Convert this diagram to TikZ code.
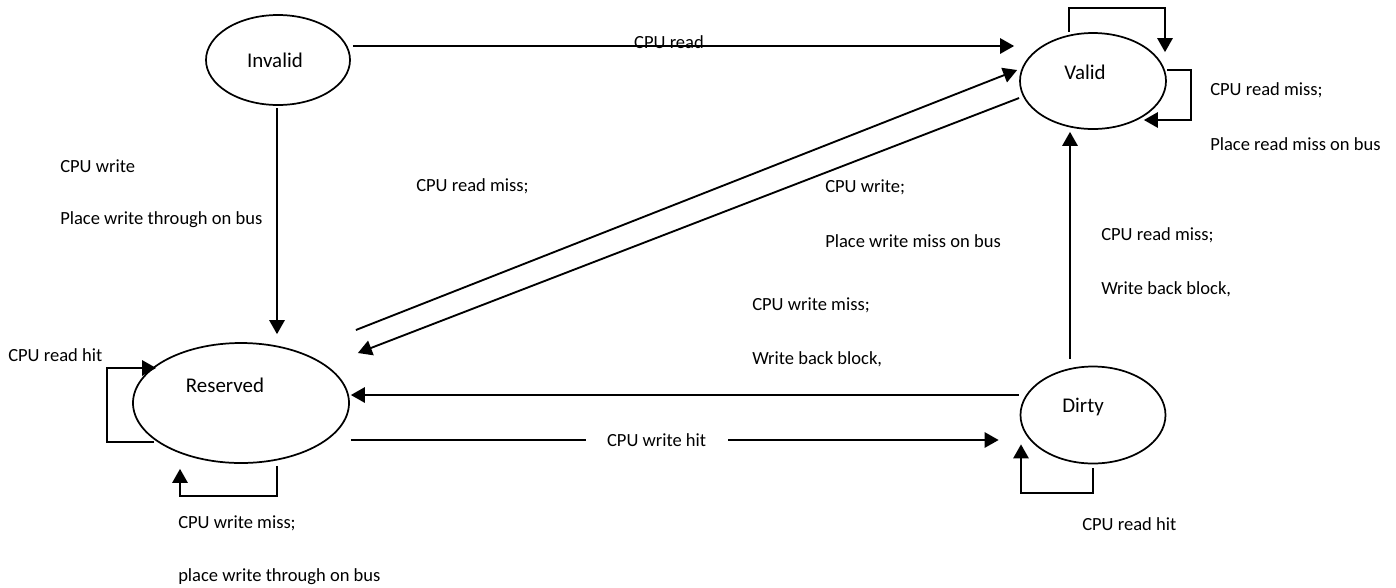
\documentclass[tikz,border=0pt]{standalone}
\usepackage{fontspec}
\setmainfont{Carlito}
\usetikzlibrary{arrows.meta,shapes.geometric}
\begin{document}
\begin{tikzpicture}[x=0.75pt,y=-0.75pt,
  state/.style={draw,ellipse,line width=1.3pt,inner sep=0pt},
  txt/.style={font=\fontsize{13.9}{16}\selectfont,inner sep=0pt},
  stxt/.style={font=\fontsize{15.7}{18}\selectfont,inner sep=0pt},
  lbl/.style={txt,anchor=west},
  arr/.style={line width=1.4pt,-{Triangle[length=10.5pt,width=11.5pt]}}]
\useasboundingbox (0,0) rectangle (1396,587);
% states
\node[state,minimum width=108pt,minimum height=67.5pt] (inv) at (278,60) {};
\node[state,minimum width=109.5pt,minimum height=72pt] (val) at (1093,81) {};
\node[state,minimum width=162pt,minimum height=90pt] (res) at (241,403) {};
\node[state,minimum width=108.75pt,minimum height=72.75pt] (dir) at (1093,415) {};
\node[stxt] (invT) at (275,60) {Invalid};
\node[stxt] (valT) at (1085,72) {Valid};
\node[stxt] (resT) at (225,385) {Reserved};
\node[stxt] (dirT) at (1083,407) {Dirty};
% connectors
\draw[arr] ([shift={(2,-14)}]inv.east) -- ([shift={(-5,-35)}]val.west);
\node[txt] (l1) at (669,42) {CPU read};
\draw[arr] ([shift={(-1,2)}]inv.south) -- ([shift={(36,-8)}]res.north);
\node[lbl] (l2a) at (60,166) {CPU write};
\node[lbl] (l2b) at (60,220) {Place write through on bus};
\draw[arr] ([shift={(6,-73)}]res.east) -- ([shift={(-2,-11)}]val.west);
\node[lbl] (l3) at (416,186) {CPU read miss;};
\draw[arr] ([shift={(0,17)}]val.west) -- ([shift={(8,-50)}]res.east);
\node[lbl] (l4a) at (825,187) {CPU write;};
\node[lbl] (l4b) at (825,241) {Place write miss on bus};
\draw[arr] ([shift={(-1,-20)}]dir.west) -- ([shift={(1,-8)}]res.east);
\node[lbl] (l5a) at (752,305) {CPU write miss;};
\node[lbl] (l5b) at (752,359) {Write back block,};
\draw[arr] ([shift={(1,37)}]res.east) -- ([shift={(-21,25)}]dir.west)
  node[txt,pos=0.472,fill=white,inner xsep=16pt] (l6) {CPU write hit};
\draw[arr] ([shift={(-23,-7)}]dir.north) -- ([shift={(-23,2)}]val.south);
\node[lbl] (l7a) at (1101,235) {CPU read miss;};
\node[lbl] (l7b) at (1101,289) {Write back block,};
% self loops
\draw[arr] ([shift={(22,39)}]res.west) -- ++(-47,0) |- ([shift={(24,-35)}]res.west);
\node[lbl] (l8) at (8,355) {CPU read hit};
\draw[arr] ([shift={(36,2)}]res.south) -- ++(0,30) -| ([shift={(-61,5)}]res.south);
\node[lbl] (l9a) at (178,523) {CPU write miss;};
\node[lbl] (l9b) at (178,577) {place write through on bus};
\draw[arr] ([shift={(-24,0)}]val.north) -- ++(0,-24) -| ([shift={(72,20)}]val.north);
\draw[arr] ([shift={(0,-11)}]val.east) -- ++(24,0) |- ([shift={(-23,39)}]val.east);
\node[lbl] (l11a) at (1210,90) {CPU read miss;};
\node[lbl] (l11b) at (1210,144) {Place read miss on bus};
\draw[arr] ([shift={(0,4)}]dir.south) -- ++(0,25) -| ([shift={(-72,-20)}]dir.south);
\node[lbl] (l12) at (1082,524) {CPU read hit};
\end{tikzpicture}
\end{document}
